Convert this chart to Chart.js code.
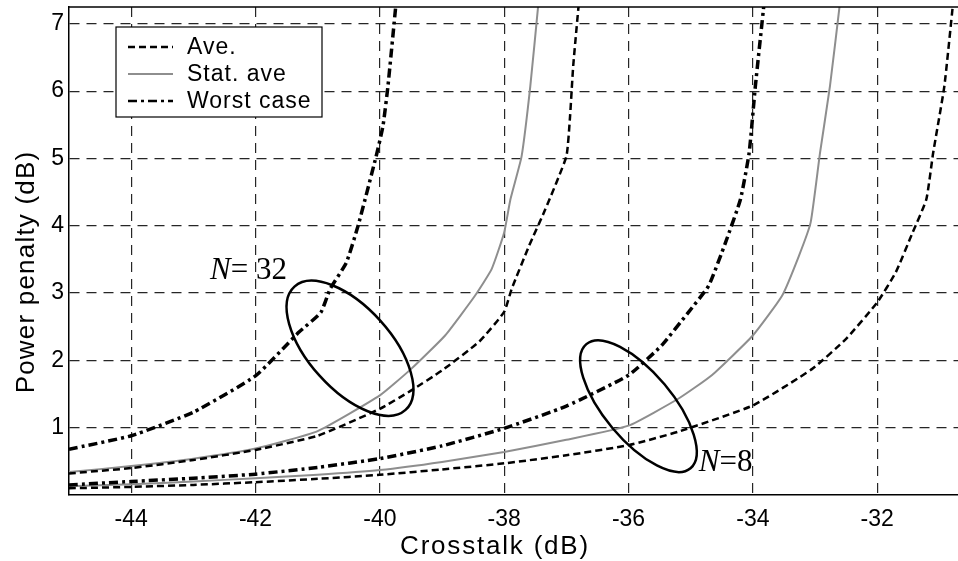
<!DOCTYPE html>
<html>
<head>
<meta charset="utf-8">
<script src="https://cdn.jsdelivr.net/npm/chart.js@4.4.1/dist/chart.umd.min.js"></script>
<style>
  html, body { margin: 0; padding: 0; background: #fff; }
  canvas { display: block; }
</style>
</head>
<body>
<canvas id="penaltyChart" width="958" height="561"></canvas>
<script>
// Axes
const xTicks = [-44, -42, -40, -38, -36, -34, -32];
const yTicks = [1, 2, 3, 4, 5, 6, 7];
const xRange = [-45, -30.7];
const yRange = [0, 7.25];

const seriesNames = ['Ave.', 'Stat. ave', 'Worst case'];

// Power penalty (dB) vs crosstalk (dB), N = 32
const aveN32 = [
  [-45, 0.32], [-44, 0.40], [-43, 0.52], [-42, 0.67], [-41, 0.88], [-40, 1.28],
  [-39.5, 1.55], [-39, 1.85], [-38.4, 2.28], [-38, 2.72], [-37.88, 3.06],
  [-37.6, 3.7], [-37.34, 4.24], [-37, 5.03], [-36.94, 5.63], [-36.89, 6.37], [-36.8, 7.3]
];
const statN32 = [
  [-45, 0.34], [-44, 0.43], [-43, 0.54], [-42, 0.69], [-41, 0.95], [-40, 1.48],
  [-39.5, 1.87], [-38.95, 2.37], [-38.47, 2.96], [-38.2, 3.36], [-38, 3.9],
  [-37.9, 4.39], [-37.72, 5.03], [-37.58, 6.07], [-37.45, 7.3]
];
const worstN32 = [
  [-45, 0.68], [-44, 0.88], [-43, 1.23], [-42, 1.77], [-41.3, 2.42], [-40.95, 2.71],
  [-40.8, 3.06], [-40.54, 3.45], [-40.35, 4.0], [-40.06, 5.03], [-39.95, 5.48],
  [-39.87, 6.07], [-39.74, 7.3]
];

// N = 8
const aveN8 = [
  [-45, 0.10], [-44, 0.12], [-43, 0.15], [-42, 0.19], [-41, 0.24], [-40, 0.30],
  [-39, 0.38], [-38, 0.47], [-37, 0.59], [-36, 0.74], [-35.2, 0.94], [-34, 1.33],
  [-33.05, 1.87], [-32.5, 2.32], [-32, 2.86], [-31.7, 3.31], [-31.43, 3.9],
  [-31.21, 4.39], [-31.1, 5.08], [-30.92, 6.07], [-30.78, 7.3]
];
const statN8 = [
  [-45, 0.13], [-44, 0.16], [-43, 0.20], [-42, 0.25], [-41, 0.30], [-40, 0.37],
  [-39, 0.49], [-38, 0.64], [-37, 0.82], [-36, 1.03], [-35.2, 1.43], [-34.66, 1.78],
  [-34, 2.37], [-33.53, 2.96], [-33.26, 3.55], [-33.07, 4.05], [-32.92, 5.08],
  [-32.76, 6.07], [-32.6, 7.3]
];
const worstN8 = [
  [-45, 0.15], [-44, 0.20], [-43, 0.25], [-42, 0.31], [-41, 0.41], [-40, 0.54],
  [-39, 0.73], [-38, 0.99], [-37, 1.32], [-36, 1.78], [-35.47, 2.22], [-35.04, 2.71],
  [-34.71, 3.11], [-34.44, 3.75], [-34.2, 4.39], [-34.06, 5.08], [-33.96, 6.07],
  [-33.82, 7.3]
];

// Group markers: rings around each bundle of curves, and their labels
const groupRings = [
  { x: -40.48, y: 2.18, rx: 83, ry: 41, angle: 48 },
  { x: -35.84, y: 1.32, rx: 81, ry: 34, angle: 50 }
];
const groupLabels = [
  { name: 'N', rest: '= 32', x: -42.73, y: 3.21 },
  { name: 'N', rest: '=8', x: -34.87, y: 0.35 }
];

const SANS = '"Liberation Sans", Arial, Helvetica, sans-serif';
const SERIF = '"Liberation Serif", "Times New Roman", serif';

const styles = {
  'Ave.': { borderColor: '#000', borderWidth: 2.5, borderDash: [7, 4], order: 2 },
  'Stat. ave': { borderColor: '#8e8e8e', borderWidth: 2, borderDash: [], order: 3 },
  'Worst case': { borderColor: '#000', borderWidth: 3.5, borderDash: [9, 4, 3, 4], order: 1 }
};

function toPoints(pairs) {
  return pairs.map(p => ({ x: p[0], y: p[1] }));
}

function makeSet(name, pairs) {
  return Object.assign({
    label: name,
    data: toPoints(pairs),
    pointRadius: 0,
    tension: 0.15,
    fill: false
  }, styles[name]);
}

const datasets = [
  makeSet(seriesNames[0], aveN32),
  makeSet(seriesNames[1], statN32),
  makeSet(seriesNames[2], worstN32),
  makeSet(seriesNames[0], aveN8),
  makeSet(seriesNames[1], statN8),
  makeSet(seriesNames[2], worstN8)
];

// Frame top line, rings, labels, legend box and axis titles
const decorations = {
  id: 'decorations',
  afterDatasetsDraw(chart) {
    const { ctx, chartArea: area, scales: { x, y } } = chart;
    ctx.save();

    // top edge of the plot box
    ctx.strokeStyle = '#000';
    ctx.lineWidth = 1.5;
    ctx.beginPath();
    ctx.moveTo(area.left, area.top);
    ctx.lineTo(area.right, area.top);
    ctx.stroke();

    // rings
    ctx.lineWidth = 2.5;
    groupRings.forEach(r => {
      ctx.beginPath();
      ctx.ellipse(x.getPixelForValue(r.x), y.getPixelForValue(r.y), r.rx, r.ry,
        r.angle * Math.PI / 180, 0, Math.PI * 2);
      ctx.stroke();
    });

    // N labels
    ctx.fillStyle = '#000';
    ctx.textBaseline = 'alphabetic';
    ctx.textAlign = 'left';
    groupLabels.forEach(l => {
      const px = x.getPixelForValue(l.x);
      const py = y.getPixelForValue(l.y);
      ctx.font = 'italic 31px ' + SERIF;
      ctx.fillText(l.name, px, py);
      const w = ctx.measureText(l.name).width;
      ctx.font = '31px ' + SERIF;
      ctx.fillText(l.rest, px + w, py);
    });

    // legend
    const lx = area.left + 47, ly = area.top + 20, lw = 206, lh = 90;
    ctx.fillStyle = '#fff';
    ctx.fillRect(lx, ly, lw, lh);
    ctx.strokeStyle = '#000';
    ctx.lineWidth = 1.2;
    ctx.setLineDash([]);
    ctx.strokeRect(lx, ly, lw, lh);
    ctx.font = '23px ' + SANS;
    ctx.textBaseline = 'middle';
    if ('letterSpacing' in ctx) ctx.letterSpacing = '1px';
    seriesNames.forEach((name, i) => {
      const st = styles[name];
      const rowY = ly + 20 + i * 27;
      ctx.strokeStyle = st.borderColor;
      ctx.lineWidth = Math.min(st.borderWidth, 2.5);
      ctx.setLineDash(st.borderDash);
      ctx.beginPath();
      ctx.moveTo(lx + 12, rowY);
      ctx.lineTo(lx + 57, rowY);
      ctx.stroke();
      ctx.setLineDash([]);
      ctx.fillStyle = '#000';
      ctx.fillText(name, lx + 71, rowY + 1);
    });

    // axis titles
    ctx.font = '26px ' + SANS;
    ctx.textAlign = 'center';
    ctx.textBaseline = 'middle';
    if ('letterSpacing' in ctx) ctx.letterSpacing = '1.8px';
    ctx.fillText('Crosstalk (dB)', 495, area.bottom + 52);
    ctx.translate(27, 272);
    ctx.rotate(-Math.PI / 2);
    if ('letterSpacing' in ctx) ctx.letterSpacing = '1.2px';
    ctx.fillText('Power penalty (dB)', 0, 0);
    ctx.restore();
  }
};

const gridStyle = { color: 'rgba(0,0,0,0.85)', lineWidth: 1.2, drawTicks: false };
const borderStyle = { display: true, color: '#000', width: 1.5, dash: [10, 7] };

new Chart(document.getElementById('penaltyChart').getContext('2d'), {
  type: 'line',
  data: { datasets: datasets },
  options: {
    responsive: false,
    animation: false,
    devicePixelRatio: 1,
    layout: { padding: { left: 0, top: 7, right: 0, bottom: 0 } },
    plugins: { legend: { display: false }, tooltip: { enabled: false } },
    scales: {
      x: {
        type: 'linear',
        min: xRange[0],
        max: xRange[1],
        afterBuildTicks: s => { s.ticks = xTicks.map(v => ({ value: v })); },
        afterFit: s => { s.height = 66; s.paddingLeft = 0; s.paddingRight = 0; },
        grid: gridStyle,
        border: borderStyle,
        ticks: { color: '#000', padding: 11, maxRotation: 0, font: { family: SANS, size: 23 } }
      },
      y: {
        type: 'linear',
        min: yRange[0],
        max: yRange[1],
        afterBuildTicks: s => { s.ticks = yTicks.map(v => ({ value: v })); },
        afterFit: s => { s.width = 69; s.paddingTop = 0; s.paddingBottom = 0; },
        grid: gridStyle,
        border: borderStyle,
        ticks: { color: '#000', padding: 5, font: { family: SANS, size: 23 } }
      }
    }
  },
  plugins: [decorations]
});
</script>
</body>
</html>
